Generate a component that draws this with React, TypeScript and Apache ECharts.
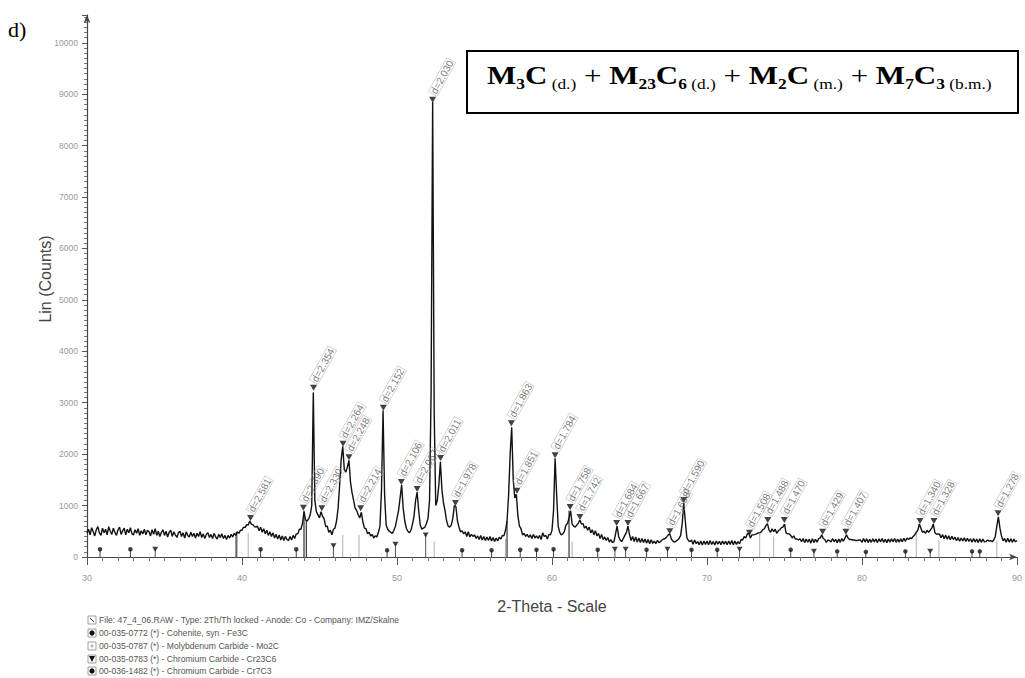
import React, { useEffect, useRef } from "react";
import * as echarts from "echarts";

// ---- data: measured intensity on a 0.1 deg grid from 30.0 to 90.0 (2-Theta) ----
const X_START = 30;
const X_STEP = 0.1;
const countsRows: number[][] = [
  [460, 540, 430, 570, 490, 410, 530, 590, 470, 420], // 30
  [560, 470, 540, 430, 590, 500, 440, 560, 480, 420], // 31
  [530, 580, 440, 510, 560, 430, 540, 470, 570, 450], // 32
  [430, 530, 460, 550, 420, 510, 450, 540, 430, 520], // 33
  [490, 410, 530, 440, 550, 420, 500, 400, 480, 530], // 34
  [420, 500, 390, 480, 520, 400, 490, 430, 380, 470], // 35
  [500, 400, 470, 370, 490, 420, 390, 480, 400, 460], // 36
  [370, 460, 400, 490, 380, 450, 360, 440, 470, 380], // 37
  [440, 360, 460, 390, 350, 440, 380, 450, 360, 420], // 38
  [340, 420, 370, 440, 390, 460, 420, 490, 460, 520], // 39
  [520, 580, 570, 630, 620, 700, 640, 630, 590, 580], // 40
  [600, 510, 580, 480, 550, 450, 520, 420, 490, 400], // 41
  [470, 370, 440, 350, 430, 330, 410, 320, 400, 340], // 42
  [320, 400, 330, 420, 360, 450, 450, 540, 540, 650], // 43
  [880, 720, 700, 740, 820, 1000, 3200, 1100, 880, 820], // 44
  [760, 880, 790, 740, 590, 600, 480, 520, 430, 540], // 45
  [560, 700, 950, 1400, 1900, 2150, 1700, 1650, 1750, 1880], // 46
  [1450, 1250, 1100, 950, 900, 820, 760, 870, 680, 560], // 47
  [550, 450, 480, 410, 440, 370, 410, 390, 480, 600], // 48
  [1300, 2850, 1200, 620, 540, 500, 480, 460, 520, 600], // 49
  [750, 900, 1150, 1400, 950, 700, 560, 500, 470, 520], // 50
  [640, 800, 1100, 1260, 900, 620, 540, 560, 580, 650], // 51
  [750, 1100, 3200, 8850, 2800, 1000, 1100, 1400, 1850, 1300], // 52
  [1050, 900, 700, 600, 580, 620, 750, 1000, 980, 700], // 53
  [580, 490, 510, 450, 490, 400, 490, 390, 440, 400], // 54
  [430, 360, 410, 340, 420, 330, 400, 320, 390, 320], // 55
  [400, 310, 380, 300, 370, 310, 385, 350, 420, 410], // 56
  [520, 700, 1200, 2000, 2520, 1500, 1150, 1220, 800, 600], // 57
  [550, 430, 460, 400, 440, 380, 430, 360, 440, 370], // 58
  [410, 360, 420, 340, 470, 400, 420, 350, 440, 430], // 59
  [520, 900, 1920, 1200, 600, 480, 430, 450, 500, 620], // 60
  [650, 760, 900, 640, 600, 580, 620, 660, 720, 640], // 61
  [650, 560, 600, 520, 580, 470, 530, 430, 510, 410], // 62
  [460, 360, 440, 340, 390, 320, 380, 290, 340, 280], // 63
  [300, 450, 600, 400, 330, 300, 360, 420, 480, 600], // 64
  [440, 320, 400, 300, 390, 290, 370, 280, 360, 280], // 65
  [350, 270, 340, 260, 335, 265, 310, 260, 320, 280], // 66
  [300, 330, 350, 360, 390, 430, 450, 350, 310, 290], // 67
  [310, 330, 360, 420, 650, 1050, 700, 380, 320, 300], // 68
  [330, 250, 330, 260, 300, 240, 310, 235, 310, 245], // 69
  [310, 240, 320, 245, 300, 235, 310, 250, 305, 240], // 70
  [310, 250, 305, 240, 310, 245, 320, 240, 310, 245], // 71
  [300, 255, 340, 330, 400, 370, 450, 460, 370, 430], // 72
  [430, 440, 450, 470, 470, 490, 530, 550, 610, 650], // 73
  [530, 480, 550, 490, 540, 460, 510, 530, 570, 580], // 74
  [640, 470, 450, 450, 420, 370, 410, 350, 350, 330], // 75
  [355, 300, 360, 280, 350, 290, 345, 270, 355, 280], // 76
  [345, 290, 355, 370, 430, 360, 340, 285, 330, 320], // 77
  [290, 360, 295, 345, 280, 350, 285, 360, 305, 370], // 78
  [430, 370, 340, 340, 330, 330, 320, 320, 330, 330], // 79
  [285, 360, 290, 355, 280, 345, 285, 355, 295, 350], // 80
  [280, 355, 295, 360, 285, 345, 280, 350, 290, 355], // 81
  [295, 360, 285, 350, 290, 355, 295, 365, 305, 370], // 82
  [340, 370, 360, 400, 430, 480, 520, 640, 560, 480], // 83
  [500, 460, 520, 480, 520, 560, 640, 480, 440, 450], // 84
  [445, 375, 435, 355, 425, 345, 415, 335, 405, 340], // 85
  [385, 315, 380, 305, 370, 310, 375, 300, 365, 305], // 86
  [355, 285, 360, 290, 350, 280, 355, 285, 350, 295], // 87
  [300, 330, 310, 320, 295, 330, 400, 600, 780, 560], // 88
  [410, 315, 360, 285, 365, 290, 355, 285, 350, 295], // 89
  [320], // 90
];

// ---- peak search results: position, marker height, d-spacing label ----
const peakTheta = [40.55, 43.96, 44.62, 45.15, 46.52, 46.9, 47.66, 49.12, 50.28, 51.3, 52.3, 52.81, 53.77, 57.38, 57.74, 60.2, 61.17, 61.8, 64.17, 64.9, 67.6, 68.5, 72.74, 73.92, 74.99, 77.46, 78.96, 83.74, 84.64, 88.78];
const peakCounts = [760, 960, 3290, 950, 2200, 1940, 950, 2900, 1460, 1320, 8890, 1925, 1050, 2600, 1290, 1980, 970, 780, 660, 660, 500, 1110, 470, 720, 720, 490, 490, 700, 700, 850];
const peakLabels = ["d=2.581", "d=2.390", "d=2.354", "d=2.330", "d=2.264", "d=2.248", "d=2.214", "d=2.152", "d=2.106", "d=2.067", "d=2.030", "d=2.011", "d=1.978", "d=1.863", "d=1.851", "d=1.784", "d=1.758", "d=1.742", "d=1.684", "d=1.667", "d=1.608", "d=1.590", "d=1.508", "d=1.488", "d=1.470", "d=1.429", "d=1.407", "d=1.340", "d=1.328", "d=1.278"];

// ---- reference pattern sticks [2-Theta, height] ----
const fe3cSticks = [[30.84, 150], [32.8, 150], [41.2, 150], [43.5, 150], [49.36, 130], [54.2, 130], [56.1, 130], [57.95, 140], [59.0, 140], [60.1, 150], [62.95, 140], [66.1, 140], [69.0, 140], [70.66, 140], [75.4, 140], [78.4, 110], [80.25, 100], [82.8, 110], [87.1, 110], [87.6, 110]];
const cr23c6Sticks = [[34.4, 150], [45.9, 220], [49.9, 250], [51.85, 430], [64.06, 150], [64.75, 150], [67.45, 150], [72.1, 150], [76.9, 110], [84.4, 110]];
const mo2cSticks = [[39.7, 500], [40.4, 470], [46.5, 430], [47.55, 430], [52.4, 300], [57.0, 350], [61.3, 300], [73.4, 450], [74.3, 400], [83.5, 500], [84.96, 320], [88.7, 320]];
const cr7c3Sticks = [[39.62, 480], [44.0, 900], [44.15, 700], [57.1, 700], [61.1, 900]];

const legendLines = [
  "File: 47_4_06.RAW - Type: 2Th/Th locked - Anode: Co - Company: IMZ/Skalne",
  "00-035-0772 (*) - Cohenite, syn - Fe3C",
  "00-035-0787 (*) - Molybdenum Carbide - Mo2C",
  "00-035-0783 (*) - Chromium Carbide - Cr23C6",
  "00-036-1482 (*) - Chromium Carbide - Cr7C3",
];

const SANS = "'Liberation Sans', Arial, sans-serif";
const SERIF = "'Liberation Serif', 'Times New Roman', serif";

function stickLine(sticks: number[][]) {
  const out: any[] = [];
  sticks.forEach(([x, h]) => {
    out.push([x, 0], [x, h], [x, "-"]);
  });
  return out;
}

export default function App() {
  const ref = useRef<HTMLDivElement>(null);
  useEffect(() => {
    if (!ref.current) return;
    const chart = echarts.init(ref.current, undefined, { renderer: "svg" });
    const intensity = countsRows.flat();
    const pattern = intensity.map((v, i) => [Math.round((X_START + i * X_STEP) * 10) / 10, v]);
    const peaks = peakTheta.map((t, i) => ({ value: [t, peakCounts[i]], label: { formatter: peakLabels[i] } }));

    const legendY = [620, 633, 646, 659, 671];
    const legendGraphics: any[] = [];
    legendLines.forEach((t, i) => {
      legendGraphics.push({
        type: "text", x: 99, y: legendY[i],
        style: { text: t, fontSize: 8.6, fontFamily: SANS, fill: "#555", verticalAlign: "middle" },
      });
      legendGraphics.push({
        type: "rect", shape: { x: 88, y: legendY[i] - 4, width: 8, height: 8 },
        style: { fill: "#fff", stroke: "#888", lineWidth: 0.8 },
      });
    });
    legendGraphics.push({ type: "circle", shape: { cx: 92, cy: legendY[1], r: 2.6 }, style: { fill: "#111" } });
    legendGraphics.push({ type: "circle", shape: { cx: 92, cy: legendY[2], r: 1.6 }, style: { fill: "#bbb" } });
    legendGraphics.push({ type: "polygon", shape: { points: [[89, legendY[3] - 3], [95, legendY[3] - 3], [92, legendY[3] + 3]] }, style: { fill: "#111" } });
    legendGraphics.push({ type: "circle", shape: { cx: 92, cy: legendY[4], r: 2.6 }, style: { fill: "#111" } });
    legendGraphics.push({ type: "line", shape: { x1: 90, y1: legendY[0] - 2, x2: 94, y2: legendY[0] + 2 }, style: { stroke: "#333", lineWidth: 1 } });

    const sub = (extra: any = {}) => ({ fontFamily: SERIF, fontSize: 14, fontWeight: "bold", lineHeight: 14, verticalAlign: "top", padding: [14, 0, 0, 0], fill: "#000", ...extra });
    const boxText =
      "{b|M}{sb|3}{b|C}{s| (d.)}{p| + }{b|M}{sb|23}{b|C}{sb|6}{s| (d.)}{p| + }{b|M}{sb|2}{b|C}{s| (m.)}{p| + }{b|M}{sb|7}{b|C}{sb|3}{s| (b.m.)}";

    chart.setOption({
      animation: false,
      grid: { left: 87, right: 5, top: 15, bottom: 121, containLabel: false },
      xAxis: {
        type: "value", min: 30, max: 90, interval: 10,
        name: "2-Theta - Scale", nameLocation: "middle", nameGap: 41,
        nameTextStyle: { fontFamily: SANS, fontSize: 16, color: "#444" },
        axisLine: { show: true, onZero: false, lineStyle: { color: "#444", width: 1.2 }, symbol: ["none", "arrow"], symbolSize: [5, 8] },
        axisTick: { show: true, length: 8, lineStyle: { color: "#555" } },
        minorTick: { show: true, splitNumber: 10, length: 4, lineStyle: { color: "#777" } },
        axisLabel: { color: "#999", fontSize: 9, margin: 16, fontFamily: SANS },
        splitLine: { show: false },
      },
      yAxis: {
        type: "value", min: 0, max: 10540, interval: 1000,
        axisLine: { show: true, lineStyle: { color: "#444", width: 1.2 }, symbol: ["none", "arrow"], symbolSize: [5, 8] },
        axisTick: { show: true, length: 5, lineStyle: { color: "#555" } },
        minorTick: { show: true, splitNumber: 10, length: 3, lineStyle: { color: "#777" } },
        axisLabel: { color: "#999", fontSize: 8.5, margin: 9, fontFamily: SANS, showMaxLabel: false, formatter: (v: number) => String(v) },
        splitLine: { show: false },
      },
      series: [
        { type: "line", data: stickLine(mo2cSticks), showSymbol: false, connectNulls: false, lineStyle: { color: "#b0b0b0", width: 1 }, z: 1, silent: true },
        { type: "line", data: stickLine(cr7c3Sticks), showSymbol: false, connectNulls: false, lineStyle: { color: "#333", width: 1.2 }, z: 1, silent: true },
        { type: "line", data: stickLine(fe3cSticks), showSymbol: false, connectNulls: false, lineStyle: { color: "#444", width: 1 }, z: 1, silent: true },
        { type: "line", data: stickLine(cr23c6Sticks), showSymbol: false, connectNulls: false, lineStyle: { color: "#555", width: 1 }, z: 1, silent: true },
        { type: "scatter", data: fe3cSticks, symbol: "circle", symbolSize: 4.5, itemStyle: { color: "#111" }, z: 4, silent: true },
        { type: "scatter", data: cr23c6Sticks, symbol: "triangle", symbolRotate: 180, symbolSize: [6, 5], itemStyle: { color: "#111" }, z: 4, silent: true },
        { type: "line", data: pattern, showSymbol: false, lineStyle: { color: "#111", width: 1.4 }, z: 3, silent: true },
        {
          type: "scatter", data: peaks, symbol: "triangle", symbolRotate: 180, symbolSize: [7, 6],
          itemStyle: { color: "#111" }, z: 5, silent: true,
          label: {
            show: true, position: "top", distance: 3, rotate: 61, align: "left", verticalAlign: "middle",
            fontSize: 10, fontFamily: SANS, color: "#555",
            borderColor: "#aaa", borderWidth: 0.6, padding: [0, 1, 0, 1],
          },
        },
      ],
      graphic: [
        { type: "text", x: 8, y: 18, style: { text: "d)", fontFamily: SERIF, fontSize: 22, fill: "#000" } },
        {
          type: "text", x: 45, y: 279, rotation: Math.PI / 2,
          style: { text: "Lin (Counts)", fontFamily: SANS, fontSize: 16, fill: "#444", align: "center", verticalAlign: "middle" },
        },
        { type: "rect", shape: { x: 467, y: 51, width: 551, height: 62 }, style: { fill: "#fff", stroke: "#000", lineWidth: 2 }, z: 10 },
        {
          type: "text", x: 487, y: 63, scaleX: 1.24, z: 11,
          style: {
            text: boxText,
            rich: {
              b: { fontFamily: SERIF, fontSize: 25, fontWeight: "bold", lineHeight: 25, verticalAlign: "top", fill: "#000" },
              p: { fontFamily: SERIF, fontSize: 25, lineHeight: 25, verticalAlign: "top", fill: "#000" },
              sb: sub(),
              s: sub({ fontWeight: "normal" }),
            },
          },
        },
        ...legendGraphics,
      ],
    });
    return () => chart.dispose();
  }, []);
  return <div ref={ref} style={{ position: "fixed", left: 0, top: 0, width: 1025, height: 678, background: "#fff" }} />;
}
